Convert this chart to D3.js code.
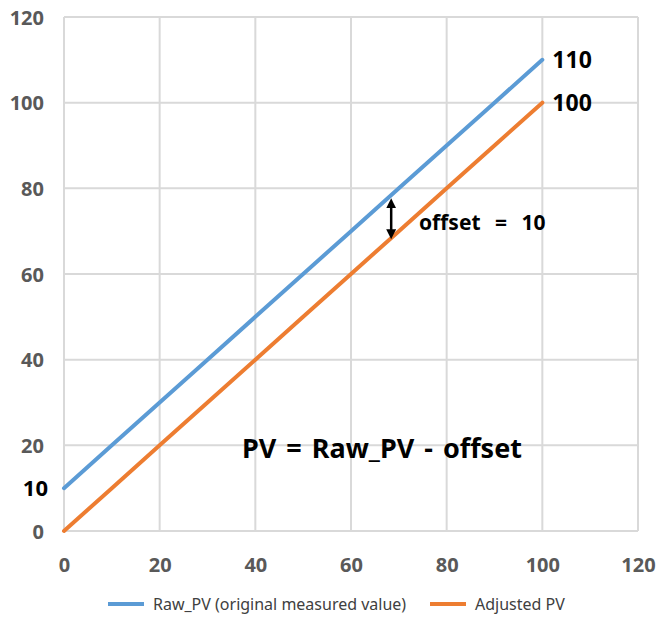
<!DOCTYPE html>
<html><head><meta charset="utf-8">
<script src="https://cdn.jsdelivr.net/npm/d3@7"></script>
<style>body{margin:0;background:#fff}svg{display:block}</style>
</head><body>
<svg id="c" width="656" height="621"></svg>
<script>
const xValues = [0, 10, 20, 30, 40, 50, 60, 70, 80, 90, 100];
const rawPV = [10, 20, 30, 40, 50, 60, 70, 80, 90, 100, 110];
const adjustedPV = [0, 10, 20, 30, 40, 50, 60, 70, 80, 90, 100];
const xTicks = [0, 20, 40, 60, 80, 100, 120];
const yTicks = [0, 20, 40, 60, 80, 100, 120];
const seriesNames = ["Raw_PV (original measured value)", "Adjusted PV"];
const colors = ["#5B9BD5", "#ED7D31"];

const svg = d3.select("#c");
const L = 64, R = 638, T = 17, B = 531;
const x = d3.scaleLinear().domain([0, 120]).range([L, R]);
const y = d3.scaleLinear().domain([0, 120]).range([B, T]);
const font = "'Noto Sans', 'DejaVu Sans', sans-serif";

// grid
svg.append("g").selectAll("line").data(xTicks).join("line")
  .attr("x1", d => x(d)).attr("x2", d => x(d)).attr("y1", T).attr("y2", B)
  .attr("stroke", "#d9d9d9").attr("stroke-width", 2);
svg.append("g").selectAll("line").data(yTicks).join("line")
  .attr("y1", d => y(d)).attr("y2", d => y(d)).attr("x1", L).attr("x2", R)
  .attr("stroke", "#d9d9d9").attr("stroke-width", 2);

// axes
const xAxis = svg.append("g").attr("transform", `translate(0,${B + 38})`)
  .call(d3.axisBottom(x).tickValues(xTicks).tickSize(0));
xAxis.select(".domain").remove();
xAxis.selectAll("text").attr("font-family", font).attr("font-size", 20).attr("font-weight", "bold").attr("fill", "#595959").attr("dy", "0");
const yAxis = svg.append("g").attr("transform", `translate(${L - 20},0)`)
  .call(d3.axisLeft(y).tickValues(yTicks).tickSize(0));
yAxis.select(".domain").remove();
yAxis.selectAll("text").attr("font-family", font).attr("font-size", 20).attr("font-weight", "bold").attr("fill", "#595959").attr("dy", "0.35em").attr("x", 0);

// lines
const series = [rawPV, adjustedPV];
const line = d3.line().x((d, i) => x(xValues[i])).y(d => y(d));
series.forEach((s, k) => {
  svg.append("path").datum(s).attr("d", line).attr("fill", "none")
    .attr("stroke", colors[k]).attr("stroke-width", 4).attr("stroke-linecap", "round");
});

// annotations
const ann = svg.append("g").attr("font-family", font).attr("font-weight", "bold").attr("fill", "#000");
ann.append("text").attr("x", x(100) + 10).attr("y", y(110)).attr("dy", "0.35em").attr("font-size", 23).text("110");
ann.append("text").attr("x", x(100) + 10).attr("y", y(100)).attr("dy", "0.35em").attr("font-size", 23).text("100");
ann.append("text").attr("x", 48).attr("y", y(10)).attr("dy", "0.35em").attr("font-size", 22).attr("text-anchor", "end").text("10");
ann.append("text").attr("x", 419).attr("y", y(72)).attr("dy", "0.35em").attr("font-size", 21).attr("word-spacing", 9).text("offset = 10");
ann.append("text").attr("x", 242).attr("y", y(19.2)).attr("dy", "0.35em").attr("font-size", 27).attr("word-spacing", 3).text("PV = Raw_PV - offset");

// double arrow
const defs = svg.append("defs");
defs.append("marker").attr("id", "ah").attr("viewBox", "0 0 10 10").attr("refX", 5).attr("refY", 5)
  .attr("markerWidth", 4).attr("markerHeight", 4).attr("orient", "auto-start-reverse")
  .append("path").attr("d", "M0,0 L10,5 L0,10 z").attr("fill", "#000");
svg.append("line").attr("x1", x(68.4)).attr("x2", x(68.4)).attr("y1", y(76.5)).attr("y2", y(69.3))
  .attr("stroke", "#000").attr("stroke-width", 2.5)
  .attr("marker-start", "url(#ah)").attr("marker-end", "url(#ah)");

// legend
const lg = svg.append("g").attr("font-family", font).attr("font-size", 16).attr("fill", "#404040");
const legX = [108, 430];
seriesNames.forEach((n, k) => {
  lg.append("line").attr("x1", legX[k]).attr("x2", legX[k] + 36).attr("y1", 604).attr("y2", 604)
    .attr("stroke", colors[k]).attr("stroke-width", 4);
  lg.append("text").attr("x", legX[k] + 45).attr("y", 604).attr("dy", "0.35em").text(n);
});
</script>
</body></html>
